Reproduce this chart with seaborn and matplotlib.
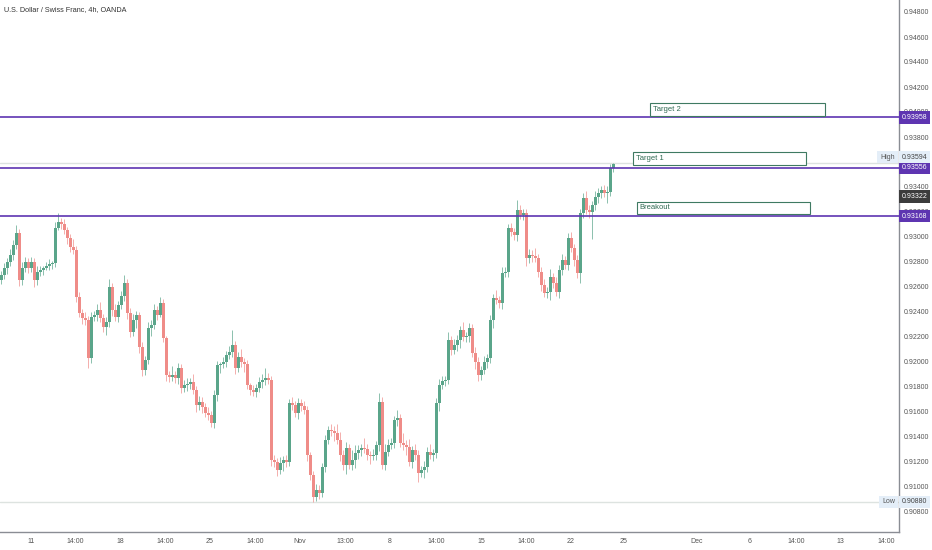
import numpy as np
import pandas as pd
import matplotlib
matplotlib.use("Agg")
import matplotlib.pyplot as plt
import seaborn as sns
from matplotlib.patches import Rectangle

# USDCHF 4h closes (open = previous close)
first_open = 0.92660
closes = [
    0.92696, 0.92752, 0.92800, 0.92856, 0.92936, 0.93032, 0.92656, 0.92752, 0.92800, 0.92752,
    0.92800, 0.92656, 0.92720, 0.92736, 0.92752, 0.92768, 0.92784, 0.92792, 0.93072, 0.93120,
    0.93104, 0.93056, 0.92992, 0.92920, 0.92896, 0.92520, 0.92392, 0.92352, 0.92336, 0.92032,
    0.92360, 0.92376, 0.92416, 0.92352, 0.92280, 0.92320, 0.92600, 0.92416, 0.92360, 0.92456,
    0.92528, 0.92632, 0.92392, 0.92240, 0.92336, 0.92376, 0.92120, 0.91936, 0.92016, 0.92272,
    0.92296, 0.92416, 0.92376, 0.92472, 0.92192, 0.91896, 0.91880, 0.91896, 0.91872, 0.91952,
    0.91792, 0.91816, 0.91824, 0.91840, 0.91776, 0.91656, 0.91680, 0.91640, 0.91592, 0.91576,
    0.91512, 0.91736, 0.91976, 0.91984, 0.92000, 0.92056, 0.92080, 0.92136, 0.91952, 0.92040,
    0.92000, 0.91984, 0.91816, 0.91776, 0.91760, 0.91792, 0.91840, 0.91856, 0.91872, 0.91856,
    0.91216, 0.91200, 0.91136, 0.91192, 0.91216, 0.91200, 0.91672, 0.91656, 0.91592, 0.91672,
    0.91648, 0.91616, 0.91256, 0.91096, 0.90920, 0.90976, 0.90952, 0.91160, 0.91376, 0.91456,
    0.91448, 0.91432, 0.91376, 0.91256, 0.91176, 0.91312, 0.91176, 0.91216, 0.91272, 0.91296,
    0.91312, 0.91304, 0.91256, 0.91248, 0.91256, 0.91336, 0.91680, 0.91176, 0.91280, 0.91336,
    0.91352, 0.91536, 0.91552, 0.91352, 0.91336, 0.91320, 0.91200, 0.91296, 0.91256, 0.91112,
    0.91136, 0.91160, 0.91280, 0.91256, 0.91272, 0.91672, 0.91816, 0.91848, 0.91856, 0.92176,
    0.92096, 0.92136, 0.92176, 0.92256, 0.92200, 0.92208, 0.92272, 0.92072, 0.92000, 0.91896,
    0.91936, 0.92000, 0.92032, 0.92336, 0.92512, 0.92496, 0.92472, 0.92712, 0.92720, 0.93072,
    0.93040, 0.93016, 0.93216, 0.93176, 0.93192, 0.92832, 0.92856, 0.92848, 0.92832, 0.92720,
    0.92616, 0.92552, 0.92560, 0.92680, 0.92632, 0.92560, 0.92736, 0.92816, 0.92776, 0.92992,
    0.92912, 0.92816, 0.92712, 0.93192, 0.93312, 0.93216, 0.93200, 0.93256, 0.93320, 0.93352,
    0.93376, 0.93352, 0.93360, 0.93552, 0.93584,
]
# wick lengths beyond the body, in pips
wick_up = [
    3, 4, 3, 5, 4, 6, 3, 5, 4, 3,  4, 3, 5, 3, 2, 3, 4, 2, 5, 7,
    3, 4, 2, 3, 6, 3, 4, 3, 5, 3,  4, 3, 5, 6, 3, 4, 6, 3, 5, 3,
    4, 6, 3, 4, 5, 3, 2, 4, 3, 5,  4, 5, 3, 5, 3, 2, 3, 7, 3, 4,
    3, 4, 5, 3, 6, 3, 5, 4, 3, 5,  3, 4, 3, 2, 4, 3, 5, 12, 3, 4,
    6, 3, 3, 2, 4, 3, 4, 5, 8, 4,  3, 4, 3, 5, 3, 4, 3, 5, 3, 4,
    3, 4, 3, 2, 3, 5, 4, 3, 4, 3,  5, 4, 7, 6, 4, 5, 3, 8, 6, 4,
    3, 8, 4, 3, 5, 3, 7, 4, 6, 5,  4, 3, 6, 3, 8, 4, 6, 3, 5, 4,
    3, 5, 4, 6, 3, 4, 5, 4, 3, 6,  3, 5, 4, 3, 6, 3, 4, 3, 5, 4,
    3, 5, 3, 4, 3, 6, 3, 5, 4, 3,  4, 3, 8, 4, 3, 3, 5, 4, 6, 3,
    4, 5, 4, 6, 3, 5, 4, 5, 3, 4,  5, 3, 4, 3, 4, 6, 4, 3, 5, 4,
    3, 4, 5, 3, 1,
]
wick_dn = [
    4, 3, 5, 3, 4, 3, 5, 4, 3, 4,  3, 6, 4, 3, 4, 2, 3, 4, 3, 2,
    4, 3, 5, 4, 3, 4, 3, 5, 4, 8,  4, 3, 5, 3, 4, 6, 4, 5, 3, 4,
    3, 4, 5, 4, 3, 6, 5, 5, 4, 3,  6, 3, 4, 2, 3, 5, 4, 3, 4, 5,
    4, 3, 5, 4, 3, 6, 4, 5, 3, 4,  3, 4, 5, 6, 3, 4, 3, 4, 5, 3,
    4, 6, 3, 4, 3, 4, 3, 5, 4, 3,  5, 4, 5, 3, 6, 4, 3, 4, 3, 5,
    4, 3, 5, 4, 4, 3, 5, 3, 4, 3,  4, 6, 3, 5, 4, 7, 3, 4, 6, 5,
    5, 3, 4, 6, 3, 4, 5, 3, 4, 3,  3, 4, 5, 3, 4, 6, 3, 5, 4, 7,
    3, 6, 4, 3, 5, 4, 6, 3, 4, 3,  4, 3, 5, 6, 3, 4, 5, 3, 6, 5,
    4, 3, 5, 4, 6, 3, 4, 5, 3, 4,  3, 4, 5, 3, 4, 6, 4, 5, 3, 4,
    5, 3, 4, 6, 4, 3, 5, 4, 3, 4,  3, 5, 4, 8, 4, 3, 5, 22, 4, 5,
    4, 3, 8, 3, 3,
]

level_prices = [0.93958, 0.93556, 0.93168]
last_price = 0.93322
price_ticks = [0.908, 0.910, 0.912, 0.914, 0.916, 0.918, 0.920, 0.922, 0.924, 0.926,
               0.928, 0.930, 0.932, 0.934, 0.936, 0.938, 0.940, 0.942, 0.944, 0.946, 0.948]
time_tick_bars = [9.8, 24.5, 39.5, 54.5, 69.5, 84.5, 99.5, 114.5, 129.5, 144.8,
                  159.8, 174.8, 189.8, 207.5, 231.8, 249.5, 264.8, 279.8, 294.8]
time_tick_labels = ["11", "14:00", "18", "14:00", "25", "14:00", "Nov", "13:00", "8", "14:00",
                    "15", "14:00", "22", "25", "Dec", "6", "14:00", "13", "14:00"]
# text boxes: label, bar from, bar to, price bottom, price top
boxes = [
    ("Target 2", 216.2, 274.5, 0.93968, 0.94072),
    ("Target 1", 210.5, 268.2, 0.93576, 0.93680),
    ("Breakout", 211.8, 269.5, 0.93184, 0.93280),
]

df = pd.DataFrame({"close": closes})
df["open"] = [first_open] + closes[:-1]
df["high"] = df[["open", "close"]].max(axis=1) + np.array(wick_up) * 0.0001
df["low"] = df[["open", "close"]].min(axis=1) - np.array(wick_dn) * 0.0001
df["up"] = df["close"] >= df["open"]
df["bar"] = np.arange(len(df))

sns.set_theme(style="white")
plt.rcParams["font.family"] = ["Liberation Sans", "DejaVu Sans"]

UP, DOWN = "#5aa58a", "#ef8c88"
PURPLE = "#5e35b1"
TXT = "#555555"
FS = 5.0

fig = plt.figure(figsize=(9.32, 5.5), dpi=100)
ax = fig.add_axes([0, 18 / 550, 899 / 932, 532 / 550])
ax.set_facecolor("white")

cols = np.where(df["up"], UP, DOWN)
ax.vlines(df["bar"], df["low"], df["high"], colors=cols, linewidth=0.7, alpha=0.7, zorder=2)
body = (df["close"] - df["open"]).abs().clip(lower=0.00003)
ax.bar(df["bar"], body, bottom=df[["open", "close"]].min(axis=1), width=0.72,
       color=cols, linewidth=0, zorder=3)

hi, lo = df["high"].max(), df["low"].min()
ax.axhline(hi, color="#dde3e0", lw=1.0, zorder=1)
ax.axhline(lo, color="#dde3e0", lw=1.0, zorder=1)
for p in level_prices:
    ax.axhline(p, color=PURPLE, lw=1.2, zorder=4)

for label, x0, x1, y0, y1 in boxes:
    ax.add_patch(Rectangle((x0, y0), x1 - x0, y1 - y0, facecolor="white",
                           edgecolor="#3f7a62", lw=0.8, zorder=5))
    ax.text(x0 + 1.0, (y0 + y1) / 2, label, fontsize=5.5, color="#2f6a52",
            va="center", ha="left", zorder=6)

ax.set_xlim(-0.5, 299.2)
ax.set_ylim(0.90640, 0.94896)
ax.yaxis.tick_right()
ax.set_yticks(price_ticks)
ax.set_yticklabels([f"{v:.5f}" for v in price_ticks])
ax.set_xticks(time_tick_bars)
ax.set_xticklabels(time_tick_labels)
ax.tick_params(axis="y", length=0, pad=3.5, labelsize=FS, labelcolor=TXT)
ax.tick_params(axis="x", length=0, pad=4, labelsize=FS, labelcolor=TXT)
for s in ["top", "left"]:
    ax.spines[s].set_visible(False)
for s in ["right", "bottom"]:
    ax.spines[s].set_color("#8a8d94")
    ax.spines[s].set_linewidth(1.0)


def axis_tag(price, text, fc, tc, dy=0):
    ax.annotate(text, xy=(1.0, price), xycoords=("axes fraction", "data"),
                xytext=(2, dy), textcoords="offset points", ha="left", va="center",
                fontsize=FS, color=tc, zorder=8, annotation_clip=False,
                bbox=dict(boxstyle="square,pad=0.4", fc=fc, ec="none"))


for p in level_prices:
    axis_tag(p, f"{p:.5f}", PURPLE, "white")
axis_tag(last_price, f"{last_price:.5f}", "#3c3c3c", "white")
axis_tag(hi, f"{hi:.5f}", "#e4eef8", "#444444", dy=4)
axis_tag(lo, f"{lo:.5f}", "#e4eef8", "#444444")
for p, t, dy in [(hi, "High", 4), (lo, "Low", 0)]:
    ax.annotate(t, xy=(1.0, p), xycoords=("axes fraction", "data"),
                xytext=(-3, dy), textcoords="offset points", ha="right", va="center",
                fontsize=FS, color="#555555", zorder=8, annotation_clip=False,
                bbox=dict(boxstyle="square,pad=0.4", fc="#e4eef8", ec="none"))

fig.text(4 / 932, 1 - 10 / 550, "U.S. Dollar / Swiss Franc, 4h, OANDA",
         fontsize=5.2, color="#333333", ha="left", va="center")

fig.savefig("out.png", dpi=100, facecolor="white")
